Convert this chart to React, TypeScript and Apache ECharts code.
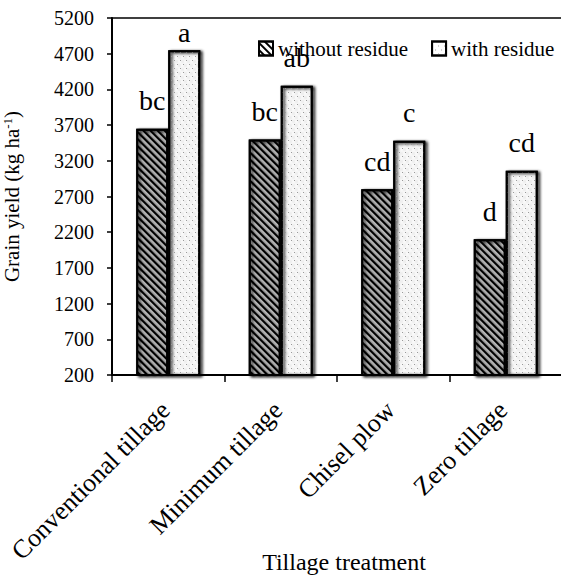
import React, { useEffect, useRef } from "react";
import * as echarts from "echarts";

const categories = ["Conventional tillage", "Minimum tillage", "Chisel plow", "Zero tillage"];
const withoutResidue = [3650, 3500, 2800, 2100];
const withResidue = [4750, 4250, 3480, 3060];
const withoutLetters = ["bc", "bc", "cd", "d"];
const withLetters = ["a", "ab", "c", "cd"];
const yTicks = [200, 700, 1200, 1700, 2200, 2700, 3200, 3700, 4200, 4700, 5200];

const FONT = "'Liberation Serif', 'Times New Roman', serif";
const Y_MIN = 200;
const Y_MAX = 5200;

export default function App() {
  const ref = useRef<HTMLDivElement>(null);

  useEffect(() => {
    if (!ref.current) return;
    const chart = echarts.init(ref.current, null, { renderer: "svg" });

    const labelDistance = (v: number) => (v > Y_MAX - 600 ? 4 : 14);

    const barStyle = {
      color: "#fff",
      borderColor: "#000",
      borderWidth: 2,
      shadowColor: "rgba(0,0,0,0.3)",
      shadowBlur: 3,
      shadowOffsetX: 2,
      shadowOffsetY: 1,
    };

    const hatchDecal = {
      symbol: "rect",
      symbolSize: 1,
      dashArrayX: [1, 0],
      dashArrayY: [2, 3],
      rotation: Math.PI / 4,
      color: "#000",
    };

    const dotDecal = {
      symbol: "rect",
      symbolSize: 1,
      dashArrayX: [
        [1, 5],
        [0, 3, 1, 2],
      ],
      dashArrayY: [1, 3],
      color: "#9a9a9a",
    };

    const labelBase = {
      show: true,
      position: "top",
      fontSize: 28,
      fontFamily: FONT,
      color: "#000",
    };

    const option: any = {
      animation: false,
      backgroundColor: "#fff",
      grid: {
        left: 112,
        top: 18,
        width: 450,
        height: 357,
        containLabel: false,
        outerBoundsMode: "none",
      },
      legend: {
        left: 253,
        top: 33,
        itemWidth: 14,
        itemHeight: 14,
        itemGap: 23,
        icon: "rect",
        itemStyle: { borderColor: "#000", borderWidth: 2 },
        textStyle: { fontSize: 21, fontFamily: FONT, color: "#000" },
        data: ["without residue", "with residue"],
      },
      xAxis: [
        {
          type: "category",
          data: categories,
          position: "bottom",
          axisLine: { show: true, lineStyle: { color: "#000", width: 2 } },
          axisTick: { show: true, length: 7, lineStyle: { color: "#000", width: 1.5 } },
          axisLabel: {
            rotate: 45,
            interval: 0,
            fontSize: 26,
            fontFamily: FONT,
            color: "#000",
            margin: 28,
            padding: [0, 4, 0, 0],
          },
          name: "Tillage treatment",
          nameLocation: "middle",
          nameGap: 175,
          nameMoveOverlap: false,
          nameTextStyle: { fontSize: 24, fontFamily: FONT, color: "#000", padding: [0, 0, 0, 14] },
        },
        {
          type: "category",
          data: categories,
          position: "top",
          axisLine: { show: true, lineStyle: { color: "#000", width: 1.5 } },
          axisTick: { show: false },
          axisLabel: { show: false },
        },
      ],
      yAxis: {
        type: "value",
        min: Y_MIN,
        max: Y_MAX,
        axisLine: { show: true, lineStyle: { color: "#000", width: 2 } },
        axisTick: { show: true, length: 5, customValues: yTicks, lineStyle: { color: "#000", width: 1.5 } },
        axisLabel: {
          customValues: yTicks,
          formatter: (v: number) => String(v),
          fontSize: 20,
          fontFamily: FONT,
          color: "#000",
          margin: 18,
        },
        splitLine: { show: false },
        name: "{n|Grain yield (kg ha}{s|-1}{n|)}",
        nameLocation: "middle",
        nameRotate: 90,
        nameGap: 90,
        nameMoveOverlap: false,
        nameTextStyle: {
          rich: {
            n: { fontSize: 21, fontFamily: FONT, color: "#000" },
            s: { fontSize: 13, fontFamily: FONT, color: "#000", verticalAlign: "top" },
          },
        },
      },
      series: [
        {
          name: "without residue",
          type: "bar",
          xAxisIndex: 0,
          barWidth: 32,
          barGap: "0%",
          itemStyle: { ...barStyle, decal: hatchDecal },
          label: { ...labelBase, formatter: (p: any) => withoutLetters[p.dataIndex] },
          data: withoutResidue.map((v) => ({ value: v, label: { distance: labelDistance(v) } })),
        },
        {
          name: "with residue",
          type: "bar",
          xAxisIndex: 0,
          barWidth: 32,
          barGap: "0%",
          itemStyle: { ...barStyle, decal: dotDecal },
          label: { ...labelBase, formatter: (p: any) => withLetters[p.dataIndex] },
          data: withResidue.map((v) => ({ value: v, label: { distance: labelDistance(v) } })),
        },
      ],
    };

    chart.setOption(option);
    return () => chart.dispose();
  }, []);

  return (
    <div
      ref={ref}
      style={{ position: "fixed", left: 0, top: 0, width: 561, height: 577, background: "#fff" }}
    />
  );
}
